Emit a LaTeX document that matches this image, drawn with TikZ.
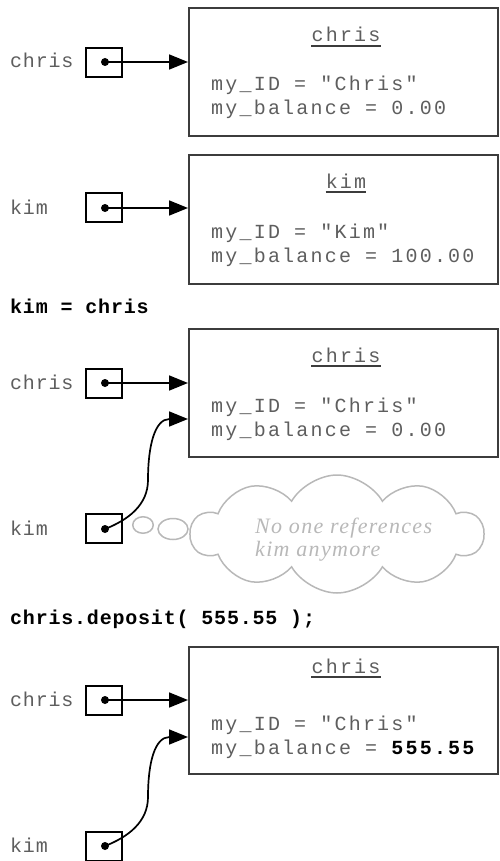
\documentclass[tikz,border=0pt]{standalone}
\usepackage{fontspec}
\usetikzlibrary{arrows.meta,shapes.symbols,shapes.geometric,calc}
\newfontfamily\codefont[LetterSpace=11]{Liberation Mono}
\newfontfamily\headfont[LetterSpace=4]{Liberation Mono}
\newfontfamily\cloudfont[LetterSpace=6]{Liberation Serif}
\definecolor{boxgray}{HTML}{3C3C3C}
\definecolor{codegray}{HTML}{5E5E5E}
\definecolor{cloudgray}{HTML}{B8B8B8}
\begin{document}
\begin{tikzpicture}[x=1pt,y=-1pt,
  objbox/.style={draw=boxgray, line width=2.2pt, rectangle, anchor=north west, minimum width=309pt, inner sep=0pt},
  ptrbox/.style={draw=black, line width=2pt, rectangle, minimum width=36pt, minimum height=29pt, inner sep=0pt},
  refdot/.style={circle, fill=black, inner sep=0pt, minimum size=8pt},
  refarrow/.style={-{Triangle[length=19pt,width=15pt]}, line width=1.7pt},
  code/.style={font=\codefont\fontsize{20}{24}\selectfont, text=codegray, inner sep=0pt, anchor=base west},
  objtitle/.style={font=\codefont\fontsize{20}{24}\selectfont, text=codegray, inner sep=0pt, anchor=base},
  uline/.style={draw=boxgray, line width=2pt},
  varlabel/.style={font=\headfont\fontsize{20}{24}\selectfont, text=codegray, inner sep=0pt, anchor=base west},
  stmt/.style={font=\headfont\bfseries\fontsize{20}{24}\selectfont, text=black, inner sep=0pt, anchor=base west},
  thought/.style={draw=cloudgray, line width=1.5pt, ellipse, inner sep=0pt},
  thoughttext/.style={font=\cloudfont\itshape\fontsize{22}{26}\selectfont, text=cloudgray, inner sep=0pt, anchor=base west}
]
\useasboundingbox (0,0) rectangle (500,861);

% ---------- Panel 1 ----------
\node[objbox, minimum height=128pt] (o1) at (188,7) {};
\node[objtitle] (t1) at (346,42) {chris};
\draw[uline] ([yshift=-4pt]t1.base west) -- ([yshift=-4pt]t1.base east);
\node[code] (a1) at (211,91) {my\_ID = "Chris"};
\node[code] (b1) at (211,115) {my\_balance = 0.00};
\node[ptrbox] (p1) at (104,62.5) {};
\node[refdot] (d1) at (105,62) {};
\node[varlabel] (l1) at (10,68) {chris};
\draw[refarrow] (d1.center) -- (o1.west |- d1.center);

% ---------- Panel 2 ----------
\node[objbox, minimum height=129pt] (o2) at (188,154) {};
\node[objtitle] (t2) at (346,188) {kim};
\draw[uline] ([yshift=-4pt]t2.base west) -- ([yshift=-4pt]t2.base east);
\node[code] (a2) at (211,238) {my\_ID = "Kim"};
\node[code] (b2) at (211,262) {my\_balance = 100.00};
\node[ptrbox] (p2) at (104,207.5) {};
\node[refdot] (d2) at (105,208) {};
\node[varlabel] (l2) at (10,214) {kim};
\draw[refarrow] (d2.center) -- (o2.west |- d2.center);

% ---------- Statement 1 ----------
\node[stmt] (s1) at (10,313) {kim = chris};

% ---------- Panel 3 ----------
\node[objbox, minimum height=128pt] (o3) at (188,328) {};
\node[objtitle] (t3) at (346,362) {chris};
\draw[uline] ([yshift=-4pt]t3.base west) -- ([yshift=-4pt]t3.base east);
\node[code] (a3) at (211,412) {my\_ID = "Chris"};
\node[code] (b3) at (211,436) {my\_balance = 0.00};
\node[ptrbox] (p3) at (104,383) {};
\node[refdot] (d3) at (105,383) {};
\node[varlabel] (l3) at (10,389) {chris};
\draw[refarrow] (d3.center) -- (o3.west |- d3.center);
\node[ptrbox] (p3k) at (104,528.5) {};
\node[refdot] (d3k) at (105,529) {};
\node[varlabel] (l3k) at (10,535) {kim};
\coordinate (e3) at (188,419);
\draw[refarrow] (d3k.center) .. controls (128,520) and (148,505) .. (148,480)
   .. controls (148,445) and (155,419) .. (e3);
% thought cloud
\node[thought, minimum width=20.5pt, minimum height=16.5pt] (c1) at (143,525) {};
\node[thought, minimum width=30pt, minimum height=21pt] (c2) at (173,529) {};
\node[cloud, cloud puffs=10, cloud puff arc=120, aspect=2.6, draw=cloudgray, line width=1.5pt,
      minimum width=292pt, minimum height=118pt, inner sep=0pt] (cl) at (337,534) {};
\node[thoughttext] (ct1) at (255,533) {No one references};
\node[thoughttext] (ct2) at (255,556) {kim anymore};

% ---------- Statement 2 ----------
\node[stmt] (s2) at (10,624) {chris.deposit( 555.55 );};

% ---------- Panel 4 ----------
\node[objbox, minimum height=127pt] (o4) at (188,646) {};
\node[objtitle] (t4) at (346,673) {chris};
\draw[uline] ([yshift=-4pt]t4.base west) -- ([yshift=-4pt]t4.base east);
\node[code] (a4) at (211,730) {my\_ID = "Chris"};
\node[code] (b4) at (211,754) {my\_balance = {\color{black}\bfseries 555.55}};
\node[ptrbox] (p4) at (104,700.5) {};
\node[refdot] (d4) at (105,700) {};
\node[varlabel] (l4) at (10,706) {chris};
\draw[refarrow] (d4.center) -- (o4.west |- d4.center);
\node[ptrbox] (p4k) at (104,846) {};
\node[refdot] (d4k) at (105,846) {};
\node[varlabel] (l4k) at (10,852) {kim};
\coordinate (e4) at (188,737);
\draw[refarrow] (d4k.center) .. controls (128,837) and (148,822) .. (148,797)
   .. controls (148,762) and (155,737) .. (e4);
\end{tikzpicture}
\end{document}
